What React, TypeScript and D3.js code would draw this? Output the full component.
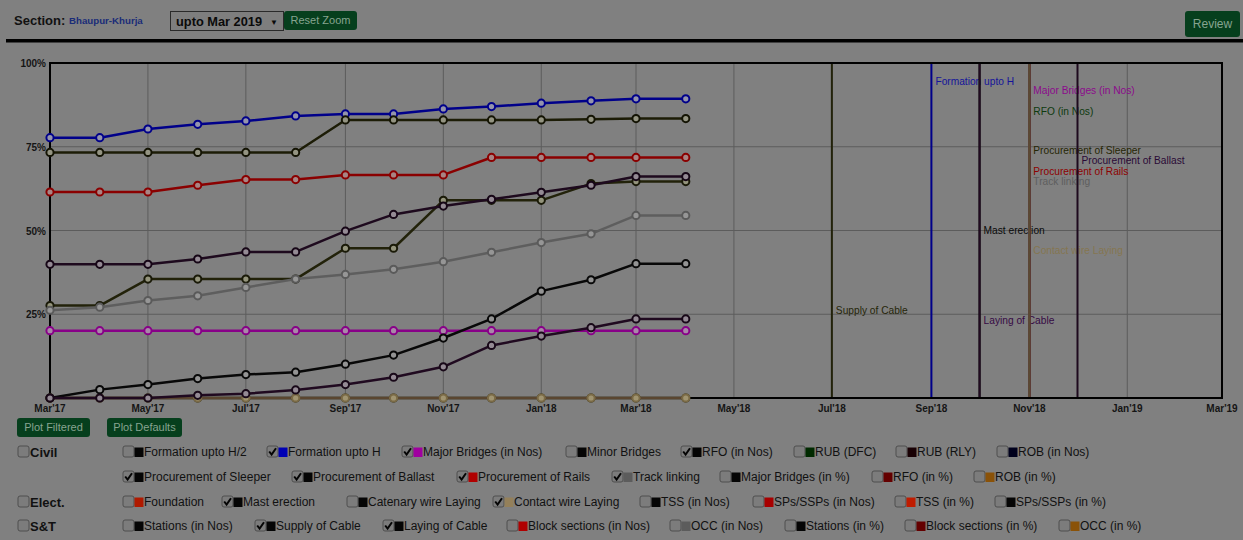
import React from "react";
import * as d3 from "d3";

// ---------- DATA ----------
const months = [
  "2017-03", "2017-04", "2017-05", "2017-06", "2017-07", "2017-08", "2017-09",
  "2017-10", "2017-11", "2017-12", "2018-01", "2018-02", "2018-03", "2018-04",
];
const formationUptoH = [77.7, 77.7, 80.3, 81.7, 82.7, 84.2, 84.8, 84.8, 86.3, 87.0, 88.0, 88.7, 89.3, 89.3];
const majorBridgesNos = [20.1, 20.1, 20.1, 20.1, 20.1, 20.1, 20.1, 20.1, 20.1, 20.1, 20.1, 20.1, 20.1, 20.1];
const rfoNos = [27.6, 27.6, 35.5, 35.5, 35.5, 35.5, 44.7, 44.7, 59.0, 59.0, 59.0, 64.0, 64.6, 64.6];
const procSleeper = [73.3, 73.3, 73.3, 73.3, 73.3, 73.3, 83.0, 83.0, 83.0, 83.0, 83.0, 83.2, 83.4, 83.4];
const procBallast = [39.9, 39.9, 39.9, 41.5, 43.6, 43.6, 49.8, 54.8, 57.3, 59.3, 61.4, 63.5, 66.1, 66.1];
const procRails = [61.5, 61.5, 61.5, 63.5, 65.2, 65.2, 66.6, 66.6, 66.6, 71.8, 71.8, 71.8, 71.8, 71.8];
const trackLinking = [26.2, 27.1, 29.1, 30.5, 33.0, 35.5, 36.9, 38.4, 40.7, 43.5, 46.4, 49.0, 54.5, 54.5];
const supplyOfCable = [0, 0, 0, 0, 0, 0, 0, 0, 0, 0, 0, 0, 0, 0];
const contactWire = [0, 0, 0, 0, 0, 0, 0, 0, 0, 0, 0, 0, 0, 0];
const mastErection = [0, 2.5, 4.0, 5.8, 7.0, 7.7, 10.1, 12.8, 17.9, 23.6, 31.9, 35.3, 40.1, 40.1];
const layingOfCable = [0, 0, 0, 0.8, 1.3, 2.4, 4.0, 6.2, 9.3, 15.7, 18.5, 21.0, 23.6, 23.6];

const seriesNames = [
  "Formation upto H", "Major Bridges (in Nos)", "RFO (in Nos)", "Procurement of Sleeper",
  "Procurement of Ballast", "Procurement of Rails", "Track linking", "Supply of Cable",
  "Contact wire Laying", "Mast erection", "Laying of Cable",
];
const seriesValues = [
  formationUptoH, majorBridgesNos, rfoNos, procSleeper, procBallast, procRails,
  trackLinking, supplyOfCable, contactWire, mastErection, layingOfCable,
];
const targetMonths = [
  "2018-09", "2018-11", "2018-11", "2018-11", "2018-12", "2018-11",
  "2018-11", "2018-07", "2018-11", "2018-10", "2018-10",
];
const labelPct = [93.4, 90.7, 84.5, 72.8, 69.9, 66.6, 63.6, 25.1, 43.0, 49.0, 22.1];

const yTicks = [25, 50, 75, 100];
const xDomain = ["2017-03", "2019-03"];

// legend rows
const legendRows = [
  { group: "Civil", items: ["Formation upto H/2", "Formation upto H", "Major Bridges (in Nos)", "Minor Bridges", "RFO (in Nos)", "RUB (DFC)", "RUB (RLY)", "ROB (in Nos)"] },
  { group: "", items: ["Procurement of Sleeper", "Procurement of Ballast", "Procurement of Rails", "Track linking", "Major Bridges (in %)", "RFO (in %)", "ROB (in %)"] },
  { group: "Elect.", items: ["Foundation", "Mast erection", "Catenary wire Laying", "Contact wire Laying", "TSS (in Nos)", "SPs/SSPs (in Nos)", "TSS (in %)", "SPs/SSPs (in %)"] },
  { group: "S&T", items: ["Stations (in Nos)", "Supply of Cable", "Laying of Cable", "Block sections (in Nos)", "OCC (in Nos)", "Stations (in %)", "Block sections (in %)", "OCC (in %)"] },
];
const legendChecked = [
  [false, true, true, false, true, false, false, false],
  [true, true, true, true, false, false, false],
  [false, true, false, true, false, false, false, false],
  [false, true, true, false, false, false, false, false],
];

// ---------- STYLE ----------
const BG = "#808080";
const seriesStyle: Record<string, { line: string; marker: string; fill: string; label: string }> = {
  "Formation upto H": { line: "#00008a", marker: "#00008a", fill: "#9494ac", label: "#14149a" },
  "Major Bridges (in Nos)": { line: "#880088", marker: "#880088", fill: "#a888a8", label: "#8c0a8c" },
  "RFO (in Nos)": { line: "#22220a", marker: "#1a1a08", fill: "#94947c", label: "#0e3a0e" },
  "Procurement of Sleeper": { line: "#1c1c06", marker: "#141404", fill: "#949482", label: "#262604" },
  "Procurement of Ballast": { line: "#1e0a1e", marker: "#160616", fill: "#948a94", label: "#2a0a36" },
  "Procurement of Rails": { line: "#8a0000", marker: "#8a0000", fill: "#a88484", label: "#8e0000" },
  "Track linking": { line: "#5e5e5e", marker: "#5a5a5a", fill: "#969696", label: "#5e5e5e" },
  "Supply of Cable": { line: "#22220a", marker: "#22220a", fill: "#94947c", label: "#26260a" },
  "Contact wire Laying": { line: "#5a4630", marker: "#7a6a46", fill: "#a09470", label: "#857650" },
  "Mast erection": { line: "#080808", marker: "#080808", fill: "#939393", label: "#0a0a0a" },
  "Laying of Cable": { line: "#200a20", marker: "#180818", fill: "#948a94", label: "#360a44" },
};
const targetLineColor: Record<string, string> = {
  "Contact wire Laying": "#5a4a32",
};
const legendColors: Record<string, string> = {
  "Formation upto H/2": "#050505", "Formation upto H": "#0000b4", "Major Bridges (in Nos)": "#a000a0",
  "Minor Bridges": "#050505", "RFO (in Nos)": "#050505", "RUB (DFC)": "#002a00", "RUB (RLY)": "#180004",
  "ROB (in Nos)": "#00001c", "Procurement of Sleeper": "#050505", "Procurement of Ballast": "#050505",
  "Procurement of Rails": "#b00000", "Track linking": "#5c5c5c", "Major Bridges (in %)": "#050505",
  "RFO (in %)": "#640000", "ROB (in %)": "#8a5208", "Foundation": "#b01a00", "Mast erection": "#050505",
  "Catenary wire Laying": "#050505", "Contact wire Laying": "#94805a", "TSS (in Nos)": "#050505",
  "SPs/SSPs (in Nos)": "#a80000", "TSS (in %)": "#c01c00", "SPs/SSPs (in %)": "#050505",
  "Stations (in Nos)": "#050505", "Supply of Cable": "#050505", "Laying of Cable": "#050505",
  "Block sections (in Nos)": "#b00000", "OCC (in Nos)": "#5c5c5c", "Stations (in %)": "#050505",
  "Block sections (in %)": "#640000", "OCC (in %)": "#8a5208",
};
const legendX = [
  [123, 267, 402, 566, 681, 794, 896, 997],
  [123, 292, 457, 612, 720, 872, 974],
  [123, 222, 347, 493, 640, 753, 895, 995],
  [123, 255, 383, 507, 670, 785, 905, 1059],
];
const legendY = [452, 477, 502, 526];

const W = 1243;
const H = 540;
const M = { left: 50, right: 1222, top: 63, bottom: 398 };
const FONT = "Arial, 'Liberation Sans', sans-serif";

const parse = d3.timeParse("%Y-%m");
const fmt = d3.timeFormat("%b'%y");

function Checkbox({ x, y, checked }: { x: number; y: number; checked: boolean }) {
  return (
    <g>
      <rect x={x} y={y - 6} width={11} height={11} rx={2} fill="#7c7c7c" stroke="#4e4e4e" strokeWidth={1} />
      {checked && (
        <path d={`M${x + 2.2},${y - 0.5} L${x + 4.6},${y + 2.6} L${x + 9},${y - 3.8}`} fill="none" stroke="#050505" strokeWidth={2} />
      )}
    </g>
  );
}

function Button({ x, y, w, h, text, size }: { x: number; y: number; w: number; h: number; text: string; size: number }) {
  return (
    <g>
      <rect x={x} y={y} width={w} height={h} rx={3} fill="#063f1d" />
      <text x={x + w / 2} y={y + h / 2 + size * 0.36} textAnchor="middle" fontSize={size} fill="#86a490" fontFamily={FONT}>
        {text}
      </text>
    </g>
  );
}

export default function App() {
  const x = d3.scaleTime().domain(xDomain.map((d) => parse(d) as Date)).range([M.left, M.right]);
  const y = d3.scaleLinear().domain([0, 100]).range([M.bottom, M.top]);
  const xTicks = x.ticks(d3.timeMonth.every(2) as any);
  const dates = months.map((m) => parse(m) as Date);
  const line = d3
    .line<number>()
    .x((_, i) => x(dates[i]))
    .y((v) => y(v));

  return (
    <div style={{ position: "fixed", left: 0, top: 0, width: W, height: H, background: BG }}>
      <svg width={W} height={H} style={{ display: "block" }} fontFamily={FONT}>
        <rect x={0} y={0} width={W} height={H} fill={BG} />

        {/* top bar */}
        <text x={14} y={24.5} fontSize={13} fontWeight="bold" fill="#111">Section:</text>
        <text x={69} y={23.5} fontSize={9.7} fontWeight="bold" fill="#1a2c78">Bhaupur-Khurja</text>
        <rect x={170.5} y={11.5} width={113} height={19} fill="#7e7e7e" stroke="#2a2a2a" strokeWidth={1} />
        <text x={176} y={25.5} fontSize={12.8} fontWeight="bold" fill="#0a0a0a">upto Mar 2019</text>
        <text x={270} y={24.5} fontSize={8} fill="#0a0a0a">▼</text>
        <Button x={284} y={11} w={73} h={19} text="Reset Zoom" size={11} />
        <Button x={1185} y={11} w={55} h={26} text="Review" size={12} />
        <rect x={6} y={39} width={W - 6} height={3.5} fill="#000" />

        {/* grid */}
        {xTicks.map((t, i) => (
          <line key={"gx" + i} x1={x(t)} x2={x(t)} y1={M.top} y2={M.bottom} stroke="#5c5c5c" strokeWidth={1} />
        ))}
        {yTicks.map((t) => (
          <line key={"gy" + t} x1={M.left} x2={M.right} y1={y(t)} y2={y(t)} stroke="#5c5c5c" strokeWidth={1} />
        ))}

        {/* axis labels */}
        {yTicks.map((t) => (
          <text key={"yl" + t} x={46} y={y(t) + 4} textAnchor="end" fontSize={10} fontWeight="bold" fill="#151515">
            {t + "%"}
          </text>
        ))}
        {xTicks.map((t, i) => (
          <text key={"xl" + i} x={x(t)} y={412} textAnchor="middle" fontSize={10} fontWeight="bold" fill="#151515">
            {fmt(t)}
          </text>
        ))}

        {/* target labels */}
        {seriesNames.map((n, i) => (
          <text key={"lab" + n} x={x(parse(targetMonths[i]) as Date) + 4} y={y(labelPct[i])} fontSize={10.2} fill={seriesStyle[n].label}>
            {n}
          </text>
        ))}
        {/* target lines */}
        {seriesNames.map((n, i) => {
          const tx = x(parse(targetMonths[i]) as Date);
          const c = targetLineColor[n] || seriesStyle[n].line;
          return <line key={"tl" + n} x1={tx} x2={tx} y1={M.top} y2={M.bottom} stroke={c} strokeWidth={2} />;
        })}

        {/* frame */}
        <rect x={M.left} y={M.top} width={M.right - M.left} height={M.bottom - M.top} fill="none" stroke="#000" strokeWidth={2} />

        {/* series */}
        {seriesNames.map((n, si) => {
          const st = seriesStyle[n];
          const vals = seriesValues[si];
          return (
            <g key={"s" + n}>
              <path d={line(vals) || ""} fill="none" stroke={st.line} strokeWidth={2.5} strokeLinejoin="round" />
              {vals.map((v, i) => (
                <circle key={i} cx={x(dates[i])} cy={y(v)} r={3.6} fill={st.fill} stroke={st.marker} strokeWidth={2} />
              ))}
            </g>
          );
        })}

        {/* bottom buttons */}
        <Button x={17} y={418} w={73} h={19} text="Plot Filtered" size={11} />
        <Button x={107} y={418} w={75} h={19} text="Plot Defaults" size={11} />

        {/* legend */}
        {legendRows.map((row, ri) => (
          <g key={"lr" + ri}>
            {row.group && (
              <g>
                <Checkbox x={18} y={legendY[ri]} checked={false} />
                <text x={30} y={legendY[ri] + 4.5} fontSize={13} fontWeight="bold" fill="#111">{row.group}</text>
              </g>
            )}
            {row.items.map((it, ii) => {
              const cx = legendX[ri][ii];
              const cy = legendY[ri];
              return (
                <g key={it}>
                  <Checkbox x={cx} y={cy} checked={legendChecked[ri][ii]} />
                  <rect x={cx + 11.5} y={cy - 4.5} width={9} height={9.5} fill={legendColors[it]} />
                  <text x={cx + 21} y={cy + 4.3} fontSize={12} fill="#111">{it}</text>
                </g>
              );
            })}
          </g>
        ))}
      </svg>
    </div>
  );
}
